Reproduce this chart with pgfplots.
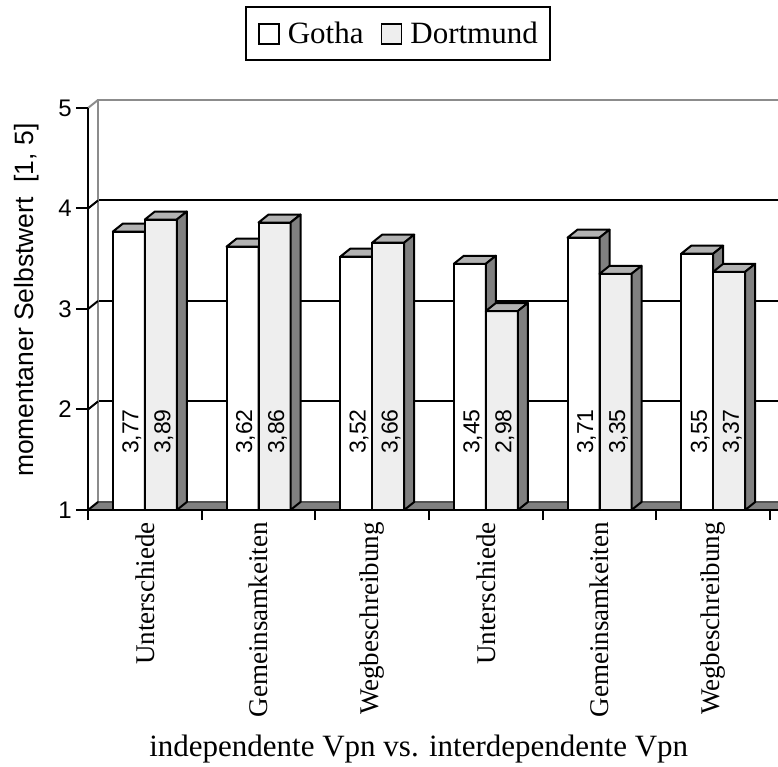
\documentclass[border=0pt]{standalone}
\usepackage{pgfplots}
\pgfplotsset{compat=1.18}
\usepackage{pgfplotstable}
\usepackage{fontspec}
\setmainfont{Liberation Serif}
\setsansfont{Liberation Sans}
\newcommand\fs[1]{\fontsize{#1}{#1}\selectfont}
\definecolor{dortgray}{HTML}{EEEEEE}
\definecolor{topgray}{HTML}{B2B2B2}
\definecolor{sidegray}{HTML}{808080}
\definecolor{wallgray}{HTML}{8C8C8C}
\pgfdeclareplotmark{emptymark}{}

\pgfplotstableread{
x g d
1 3.77 3.89
2 3.62 3.86
3 3.52 3.66
4 3.45 2.98
5 3.71 3.35
6 3.55 3.37
}\data

\pgfplotsset{
  threed/.style n args={2}{%
    forget plot, only marks, mark=emptymark, scatter,
    visualization depends on={\thisrow{#2} \as \val},
    scatter/@pre marker code/.code={%
      \pgfmathsetlengthmacro\hh{(\val-1)*100.5pt}%
      \filldraw[fill=topgray, draw=black, line width=2pt, line join=round]
        (#1pt,0pt) -- ++(32pt,0pt) -- ++(10pt,8pt) -- ++(-32pt,0pt) -- cycle;
      \filldraw[fill=sidegray, draw=black, line width=2pt, line join=round]
        ({#1pt+32pt},0pt) -- ++(10pt,8pt) -- ++(0pt,-\hh) -- ++(-10pt,-8pt) -- cycle;
    },
    scatter/@post marker code/.code={},
  },
  vlabel/.style={forget plot, only marks, mark=emptymark, point meta=explicit,
    nodes near coords={\pgfmathprintnumber[fixed,fixed zerofill,precision=2,use comma,assume math mode=true]{\pgfplotspointmeta}},
    every node near coord/.style={xshift=3pt, rotate=90, anchor=center, font=\sffamily\fs{23}, inner sep=0pt}},
}

\begin{document}
\begin{tikzpicture}
\useasboundingbox (0pt,0pt) rectangle (778pt,767pt);

% back wall with grid lines
\begin{axis}[at={(98pt,265pt)}, anchor=south west, x=113.67pt, y=100.5pt,
  xmin=0.5, xmax=6.6, ymin=1, ymax=5, ytick={2,3,4}, xtick=\empty, yticklabels={},
  ymajorgrids, grid style={black, line width=2pt}, axis line style={draw=none},
  major tick length=0pt, clip=false]
\draw[wallgray, line width=2.2pt] (axis cs:0.5,1) |- (axis cs:6.6,5);
\end{axis}

% floor and connectors
\filldraw[fill=sidegray, draw=black, line width=1pt] (88pt,257pt) -- (800pt,257pt) -- (810pt,265pt) -- (98pt,265pt) -- cycle;
\foreach \v/\c in {1/black,2/black,3/black,4/black,5/wallgray}
  \draw[\c, line width=2pt] (88pt,{257pt+(\v-1)*100.5pt}) -- ++(10pt,8pt);

\begin{axis}[
  at={(88pt,257pt)}, anchor=south west,
  x=113.67pt, y=100.5pt,
  xmin=0.5, xmax=6.6, ymin=1, ymax=5,
  axis lines*=left,
  axis line style={line width=2pt, black},
  clip marker paths=true,
  tick align=outside,
  ytick={1,...,5},
  major tick length=12pt, minor tick length=10pt,
  every tick/.style={black, line width=2pt},
  xtick={1,...,6},
  minor xtick={0.5,1.5,...,6.5},
  major x tick style={draw=none},
  xticklabels={Unterschiede, Gemeinsamkeiten, Wegbeschreibung, Unterschiede, Gemeinsamkeiten, Wegbeschreibung},
  xticklabel style={rotate=90, anchor=east, font=\fs{27}, inner sep=0pt},
  yticklabel style={font=\sffamily\fs{24}, inner sep=0pt, xshift=-4pt},
  /pgf/number format/assume math mode=true,
  xlabel={independente Vpn vs. interdependente Vpn},
  ylabel={momentaner Selbstwert\ \ [1, 5]},
  every axis x label/.style={at={(axis description cs:0.477,-0.6144)}, anchor=base, font=\fs{31}},
  every axis y label/.style={at={(axis description cs:-0.0880,0.522)}, rotate=90, anchor=center, font=\sffamily\fs{26.5}},
  legend style={at={(axis description cs:0.447,1.185)}, anchor=center, draw=black, line width=2pt,
    font=\fs{31}, inner xsep=12pt, inner ysep=15pt, nodes={inner sep=0pt}},
  legend columns=2, legend cell align=left,
  /tikz/every odd column/.append style={column sep=8pt},
  /tikz/every even column/.append style={column sep=17pt},
]
\addplot[ybar, bar width=32pt, bar shift=-16pt, fill=white, draw=black, line width=2pt,
  legend image code/.code={\draw[line width=1.8pt, fill=white] (0pt,-10pt) rectangle (20pt,10pt);}]
  table[x=x, y=g]{\data};
\addlegendentry{Gotha}
\addplot[threed={-32}{g}] table[x=x, y=g]{\data};
\addplot[ybar, bar width=32pt, bar shift=16pt, fill=dortgray, draw=black, line width=2pt,
  legend image code/.code={\draw[line width=1.8pt, fill=dortgray] (0pt,-10pt) rectangle (20pt,10pt);}]
  table[x=x, y=d]{\data};
\addlegendentry{Dortmund}
\addplot[threed={0}{d}] table[x=x, y=d]{\data};
% value labels
\addplot[vlabel] table[x expr=\thisrow{x}-0.1408, y expr=1.78, meta=g]{\data};
\addplot[vlabel] table[x expr=\thisrow{x}+0.1408, y expr=1.78, meta=d]{\data};
\end{axis}
\end{tikzpicture}
\end{document}
